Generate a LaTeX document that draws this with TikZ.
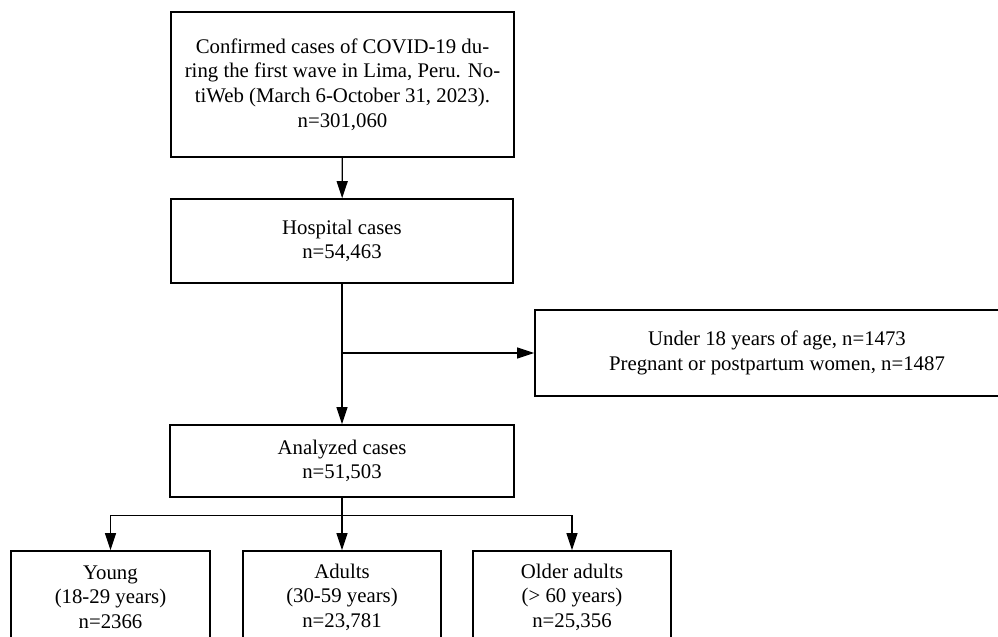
\documentclass[tikz,border=0pt]{standalone}
\usepackage{fontspec}
\setmainfont{Liberation Serif}
\usetikzlibrary{positioning,arrows.meta}

\begin{document}
\begin{tikzpicture}[
	x=0.5pt, y=-0.5pt,
	font=\fontsize{10.4}{12.3}\selectfont,
	arrow/.style={line width=0.6pt, -{Triangle[width=5.5pt,length=8.5pt]}}]

\tikzstyle{box} = [
    draw,
    line width = 0.8pt,
    align = center,
    inner sep = 0pt
]

\clip (0,0) rectangle (998,637);
\useasboundingbox (0,0) rectangle (998,637);

\node [box, minimum width=171.5pt, minimum height=72.5pt] (src) at (342.5,84.5)
	{Confirmed cases of COVID-19 du-\\ring the first wave in Lima, Peru. No-\\tiWeb (March 6-October 31, 2023).\\n=301,060};
\node [box, minimum width=171pt, minimum height=42pt] (hosp) at (342,241)
	{Hospital cases\\n=54,463};
\node [box, minimum width=242pt, minimum height=43pt] (excl) at (777,353)
	{Under 18 years of age, n=1473\\Pregnant or postpartum women, n=1487};
\node [box, minimum width=172pt, minimum height=36pt] (ana) at (342,461)
	{Analyzed cases\\n=51,503};

% age groups
\node [box, minimum width=99.5pt, minimum height=46pt] (young) at (110.5,597)
	{Young\\(18-29 years)\\n=2366};
\node [box, minimum width=99pt, minimum height=46pt] (adult) at (342,597)
	{Adults\\(30-59 years)\\n=23,781};
\node [box, minimum width=99pt, minimum height=46pt] (older) at (572,597)
	{Older adults\\(> 60 years)\\n=25,356};

\draw [arrow] (src) -- (hosp);
\draw [arrow] (hosp) -- (ana);
\coordinate (split) at (hosp.south |- excl.west);
\draw [arrow] (split) -- (excl);

\path (ana.south) ++(0,18) coordinate (fork);
\draw [arrow] (ana) -- (adult);
\draw [arrow] (fork) -| (young);
\draw [arrow] (fork) -| (older);
\end{tikzpicture}
\end{document}
